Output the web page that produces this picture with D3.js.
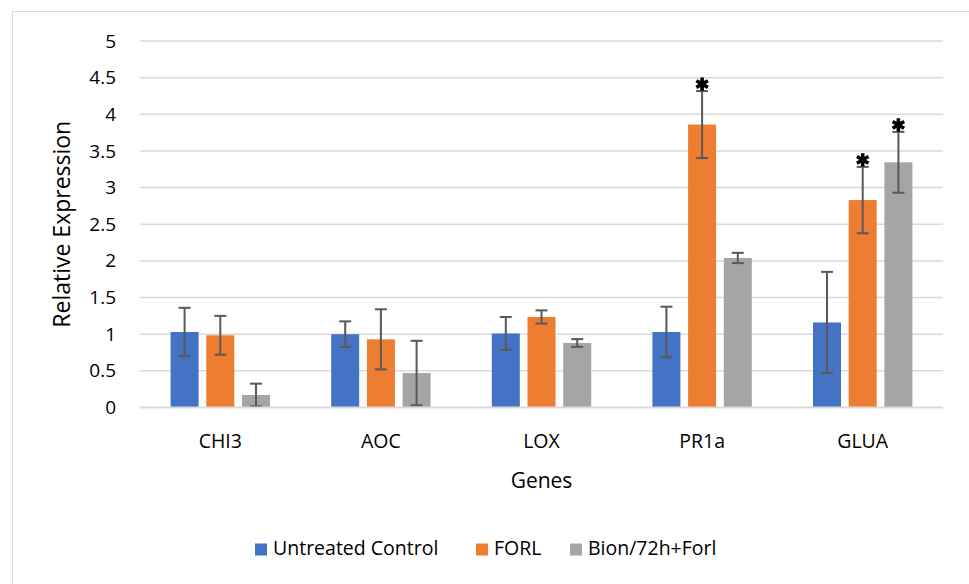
<!DOCTYPE html>
<html>
<head>
<meta charset="utf-8">
<script src="https://cdn.jsdelivr.net/npm/d3@7"></script>
<style>
  html, body { margin: 0; padding: 0; background: #fff; }
  svg { display: block; }
  text { font-family: "Open Sans", Lato, sans-serif; fill: #000; }
</style>
</head>
<body>
<svg id="chart" width="969" height="584"></svg>
<script>
const categories = ["CHI3", "AOC", "LOX", "PR1a", "GLUA"];
const seriesNames = ["Untreated Control", "FORL", "Bion/72h+Forl"];
const controlValues = [1.03, 1.00, 1.01, 1.03, 1.16];
const controlErrors = [0.33, 0.175, 0.225, 0.345, 0.69];
const forlValues = [0.985, 0.93, 1.235, 3.86, 2.83];
const forlErrors = [0.265, 0.41, 0.09, 0.457, 0.453];
const bionValues = [0.17, 0.47, 0.88, 2.04, 3.345];
const bionErrors = [0.155, 0.44, 0.053, 0.07, 0.415];
const controlSignificant = [false, false, false, false, false];
const forlSignificant = [false, false, false, true, true];
const bionSignificant = [false, false, false, false, true];
const yTicks = [0, 0.5, 1, 1.5, 2, 2.5, 3, 3.5, 4, 4.5, 5];
const colors = ["#4472C4", "#ED7D31", "#A5A5A5"];

const seriesData = [
  { name: seriesNames[0], values: controlValues, errors: controlErrors, sig: controlSignificant },
  { name: seriesNames[1], values: forlValues, errors: forlErrors, sig: forlSignificant },
  { name: seriesNames[2], values: bionValues, errors: bionErrors, sig: bionSignificant }
];

const FONT = "'Open Sans', Lato, sans-serif";
const svg = d3.select("#chart");

// outer chart border
svg.append("rect")
  .attr("x", 12.5).attr("y", 11.5)
  .attr("width", 1000).attr("height", 1000)
  .attr("fill", "none").attr("stroke", "#d9d9d9").attr("stroke-width", 1);

const plotLeft = 140, plotRight = 943, plotTop = 41, plotBottom = 407.5;

const y = d3.scaleLinear().domain([0, 5]).range([plotBottom, plotTop]);
const x0 = d3.scaleBand().domain(categories).range([plotLeft, plotRight]).paddingInner(0).paddingOuter(0);
const groupWidth = 107.1;
const x1 = d3.scaleBand().domain(seriesNames).range([0, groupWidth]);
const barWidth = 28;

// gridlines
svg.append("g").selectAll("line")
  .data(yTicks.filter(t => t !== 0))
  .join("line")
  .attr("x1", plotLeft).attr("x2", plotRight)
  .attr("y1", d => y(d)).attr("y2", d => y(d))
  .attr("stroke", "#d9d9d9").attr("stroke-width", 1.5);

// y axis labels
const yAxis = d3.axisLeft(y).tickValues(yTicks).tickSize(0).tickPadding(0)
  .tickFormat(d => String(d));
const yAxisG = svg.append("g").attr("transform", `translate(116,0)`).call(yAxis);
yAxisG.select(".domain").remove();
yAxisG.selectAll("text").attr("font-size", 19).attr("fill", "#000")
  .style("font-family", FONT);

// bars
const groups = svg.append("g").selectAll("g")
  .data(categories)
  .join("g")
  .attr("transform", d => `translate(${x0(d) + x0.bandwidth() / 2 - groupWidth / 2},0)`);

seriesData.forEach((s, si) => {
  groups.append("rect")
    .attr("x", x1(s.name) + (x1.bandwidth() - barWidth) / 2)
    .attr("width", barWidth)
    .attr("y", (d, i) => y(s.values[i]))
    .attr("height", (d, i) => y(0) - y(s.values[i]))
    .attr("fill", colors[si]);
});

// baseline
svg.append("line")
  .attr("x1", plotLeft).attr("x2", plotRight)
  .attr("y1", y(0)).attr("y2", y(0))
  .attr("stroke", "#d9d9d9").attr("stroke-width", 2);

// error bars
const capHalf = 6;
const asterisk = d3.symbol().type(d3.symbolAsterisk).size(125);
seriesData.forEach((s, si) => {
  const cx = x1(s.name) + x1.bandwidth() / 2;
  const eb = groups.append("g").attr("stroke", "#595959").attr("stroke-width", 2);
  eb.append("line")
    .attr("x1", cx).attr("x2", cx)
    .attr("y1", (d, i) => y(s.values[i] + s.errors[i]))
    .attr("y2", (d, i) => y(Math.max(0, s.values[i] - s.errors[i])));
  eb.append("line")
    .attr("x1", cx - capHalf).attr("x2", cx + capHalf)
    .attr("y1", (d, i) => y(s.values[i] + s.errors[i]))
    .attr("y2", (d, i) => y(s.values[i] + s.errors[i]));
  eb.append("line")
    .attr("x1", cx - capHalf).attr("x2", cx + capHalf)
    .attr("y1", (d, i) => y(Math.max(0, s.values[i] - s.errors[i])))
    .attr("y2", (d, i) => y(Math.max(0, s.values[i] - s.errors[i])));
  // significance asterisks
  groups.filter((d, i) => s.sig[i])
    .append("path")
    .attr("d", asterisk)
    .attr("transform", d => { const i = categories.indexOf(d); return `translate(${cx},${y(s.values[i] + s.errors[i]) - 7})`; })
    .attr("fill", "none")
    .attr("stroke", "#000")
    .attr("stroke-width", 3.6);
});

// x category labels
const xAxis = d3.axisBottom(x0).tickSize(0).tickPadding(0);
const xAxisG = svg.append("g").attr("transform", `translate(0,${y(0)})`).call(xAxis);
xAxisG.select(".domain").remove();
xAxisG.selectAll("text")
  .attr("y", 0).attr("dy", 0)
  .attr("transform", "translate(0,40)")
  .attr("font-size", 19.5).attr("fill", "#000")
  .style("font-family", FONT);

// axis titles
svg.append("text")
  .attr("x", (plotLeft + plotRight) / 2).attr("y", 487.5)
  .attr("text-anchor", "middle").attr("font-size", 21)
  .text("Genes");

svg.append("text")
  .attr("transform", `translate(70,${(plotTop + plotBottom) / 2}) rotate(-90)`)
  .attr("text-anchor", "middle").attr("font-size", 23)
  .text("Relative Expression");

// legend
const legendItems = [
  { name: seriesNames[0], x: 255 },
  { name: seriesNames[1], x: 476 },
  { name: seriesNames[2], x: 570 }
];
const legend = svg.append("g").selectAll("g").data(legendItems).join("g")
  .attr("transform", d => `translate(${d.x},0)`);
legend.append("rect")
  .attr("x", 0).attr("y", 543.5).attr("width", 12).attr("height", 12)
  .attr("fill", (d, i) => colors[i]);
legend.append("text")
  .attr("x", 18).attr("y", 555)
  .attr("font-size", 19.5)
  .text(d => d.name);
</script>
</body>
</html>
